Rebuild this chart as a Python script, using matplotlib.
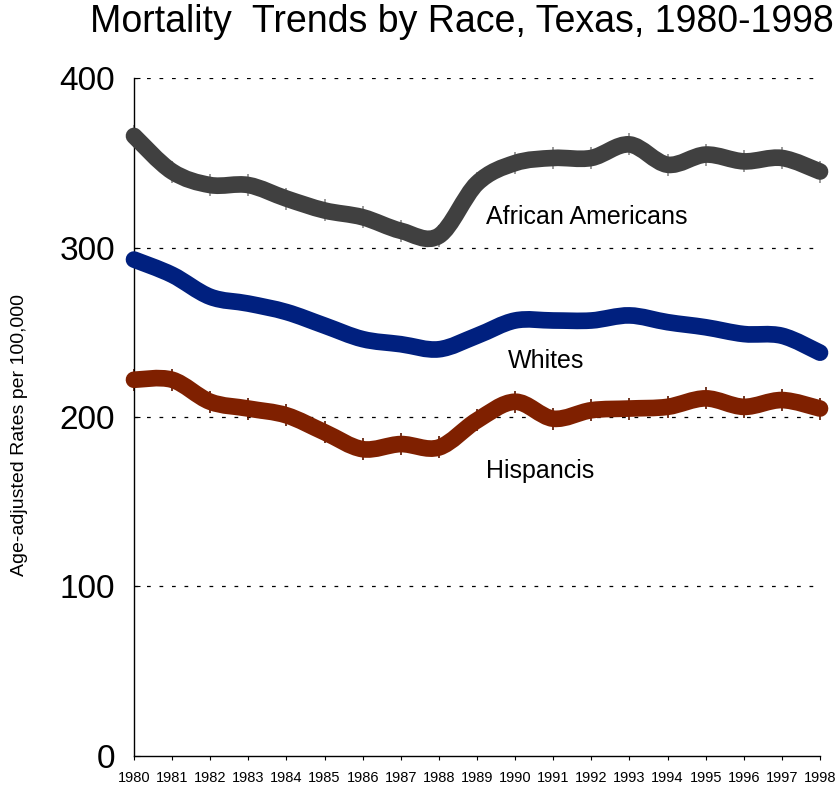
import numpy as np
import matplotlib
matplotlib.use("Agg")
import matplotlib.pyplot as plt
from matplotlib.path import Path
from matplotlib.patches import PathPatch

years = list(range(1980, 1999))
african_americans = [366, 345, 337, 337, 329, 322, 318, 310, 307, 338, 350, 353, 353, 361, 349, 355, 351, 353, 345]
whites = [293, 284, 271, 267, 262, 254, 246, 243, 240, 248, 257, 257, 257, 260, 256, 253, 249, 248, 238]
hispanics = [222, 222, 209, 205, 201, 191, 181, 184, 182, 198, 209, 199, 204, 205, 206, 211, 206, 210, 205]
yticks = [0, 100, 200, 300, 400]

REG = ['Liberation Sans', 'DejaVu Sans']

fig = plt.figure(figsize=(8.4, 7.91), dpi=100)
ax = fig.add_axes([134/840, 1 - 755.6/791, (820 - 134)/840, (755.6 - 78.4)/791])
ax.set_xlim(1980, 1998)
ax.set_ylim(0, 400)


def smooth_path(x, y):
    pts = np.column_stack([x, y]).astype(float)
    n = len(pts)
    verts = [pts[0]]
    codes = [Path.MOVETO]
    for i in range(n - 1):
        p0 = pts[i - 1] if i > 0 else pts[i]
        p1 = pts[i]
        p2 = pts[i + 1]
        p3 = pts[i + 2] if i + 2 < n else pts[i + 1]
        c1 = p1 + (p2 - p0) / 6.0
        c2 = p2 - (p3 - p1) / 6.0
        verts += [c1, c2, p2]
        codes += [Path.CURVE4] * 3
    return Path(verts, codes)


series = [
    (african_americans, '#404040', '#8a8a8a'),
    (whites, '#00207f', None),
    (hispanics, '#7f2000', '#5a1500'),
]
for vals, col, mcol in series:
    patch = PathPatch(smooth_path(years, vals), facecolor='none', edgecolor=col,
                      lw=12, capstyle='round', joinstyle='round', clip_on=False, zorder=3)
    ax.add_patch(patch)
    if mcol is not None:
        ax.plot(years, vals, ls='none', marker='|', ms=16, mew=1.2, color=mcol,
                clip_on=False, zorder=2)

# gridlines
for yv in yticks[1:]:
    ax.axhline(yv, color='black', lw=0.9, ls=(0, (3, 7)), zorder=1)

for s in ['top', 'right']:
    ax.spines[s].set_visible(False)
ax.spines['left'].set_linewidth(1.0)
ax.spines['bottom'].set_linewidth(1.0)

ax.set_yticks(yticks)
ax.set_yticklabels([str(v) for v in yticks], fontsize=24, family=REG)
ax.tick_params(axis='y', direction='in', length=4, pad=13.5)
ax.set_xticks(years)
ax.set_xticklabels([str(y) for y in years], fontsize=10.5, family=REG)
ax.tick_params(axis='x', direction='out', length=3, pad=8)

ax.set_ylabel('Age-adjusted Rates per 100,000', fontsize=14, family=REG)
ax.yaxis.set_label_coords(-106/686, 0.473)

fig.text(462/840, 1 - 22/791, 'Mortality  Trends by Race, Texas, 1980-1998',
         fontsize=27, family=REG, ha='center', va='center')

ax.text(1989.24, 318, 'African Americans', fontsize=18, family=REG, ha='left', va='center')
ax.text(1989.82, 233, 'Whites', fontsize=18, family=REG, ha='left', va='center')
ax.text(1989.24, 168, 'Hispancis', fontsize=18, family=REG, ha='left', va='center')

fig.savefig('out.png', dpi=100)
